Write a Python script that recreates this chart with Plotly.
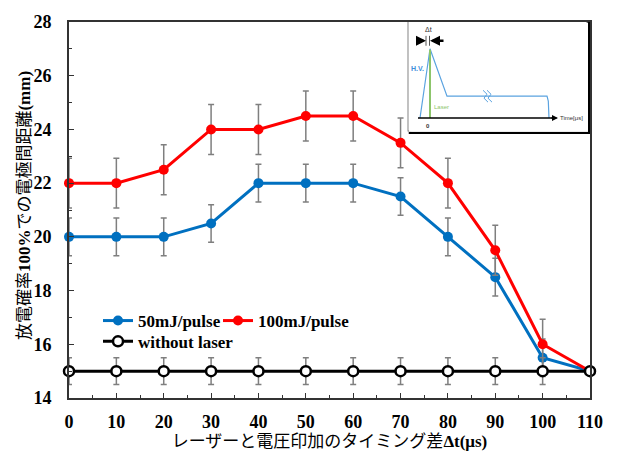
import plotly.graph_objects as go

# ---------------- data ----------------
dt = [0, 10, 20, 30, 40, 50, 60, 70, 80, 90, 100, 110]
mj50 = [20, 20, 20, 20.5, 22, 22, 22, 21.5, 20, 18.5, 15.5, 15]
mj50_err = [0.7, 0.7, 0.7, 0.7, 0.7, 0.7, 0.7, 0.7, 0.7, 0.7, 0.7, 0]
mj100 = [22, 22, 22.5, 24, 24, 24.5, 24.5, 23.5, 22, 19.5, 16, 15]
mj100_err = [0.93, 0.93, 0.93, 0.93, 0.93, 0.93, 0.93, 0.93, 0.93, 0.93, 0.93, 0]
nolaser = [15, 15, 15, 15, 15, 15, 15, 15, 15, 15, 15, 15]
nolaser_err = [0.5, 0.5, 0.5, 0.5, 0.5, 0.5, 0.5, 0.5, 0.5, 0.5, 0.5, 0]
x_ticks = [0, 10, 20, 30, 40, 50, 60, 70, 80, 90, 100, 110]
y_ticks = [14, 16, 18, 20, 22, 24, 26, 28]

# inset schematic (drawn in its own small axes, units = schematic px)
hv_x = [420, 430, 447, 547, 548.3, 549]
hv_y = [117, 47, 95, 95, 100, 117]
laser_x = [430, 430]
laser_y = [48, 117]
time_axis_x = [418, 556]
time_axis_y = [117, 117]

SERIF = "Liberation Serif, Times New Roman, Noto Sans CJK JP"
BLUE = "#0070C0"
RED = "#FF0000"
GRAY = "#7f7f7f"

fig = go.Figure()

def add_series(y, err, name, color, fill, legend):
    fig.add_trace(go.Scatter(
        x=dt, y=y, name=name, mode="lines+markers",
        line=dict(color=color, width=3),
        marker=dict(size=10, color=fill, line=dict(color=color, width=2.5 if fill == "white" else 0)),
        error_y=dict(type="data", array=err, visible=True, color=GRAY, thickness=1.5, width=3),
        legend=legend, cliponaxis=False,
    ))

add_series(mj50, mj50_err, "50mJ/pulse", BLUE, BLUE, "legend")
add_series(mj100, mj100_err, "100mJ/pulse", RED, RED, "legend3")
add_series(nolaser, nolaser_err, "without laser", "black", "white", "legend2")

# inset traces
fig.add_trace(go.Scatter(x=hv_x, y=hv_y, mode="lines", line=dict(color="#5BA3E0", width=1.2),
                         xaxis="x2", yaxis="y2", showlegend=False, hoverinfo="skip"))
fig.add_trace(go.Scatter(x=laser_x, y=laser_y, mode="lines", line=dict(color="#8CC56B", width=2),
                         xaxis="x2", yaxis="y2", showlegend=False, hoverinfo="skip"))
fig.add_trace(go.Scatter(x=time_axis_x, y=time_axis_y, mode="lines", line=dict(color="black", width=1.5),
                         xaxis="x2", yaxis="y2", showlegend=False, hoverinfo="skip"))
# dt marker lines
fig.add_trace(go.Scatter(x=[426, 426, None, 429.5, 429.5], y=[34, 44, None, 34, 44], mode="lines",
                         line=dict(color="#555", width=1), xaxis="x2", yaxis="y2",
                         showlegend=False, hoverinfo="skip"))
# break mark
fig.add_trace(go.Scatter(x=[483, 487, 484, 488, None, 487, 491, 488, 492],
                         y=[89, 93, 97, 101, None, 89, 93, 97, 101], mode="lines",
                         line=dict(color="#5BA3E0", width=1), xaxis="x2", yaxis="y2",
                         showlegend=False, hoverinfo="skip"))

L, R, T, B = 69, 27, 20, 57
W, H = 617, 457
pw, ph = W - L - R, H - T - B

def px(xp):
    return (xp - L) / pw

def py(yp):
    return (H - B - yp) / ph

axis_common = dict(showgrid=False, zeroline=False, showline=True, linecolor="#333", linewidth=2,
                   mirror=True, ticks="inside", ticklen=5, tickcolor="#333", tickwidth=1,
                   tickfont=dict(family=SERIF, size=18, color="black", weight="bold"))

legfont = dict(family=SERIF, size=17, color="black", weight="bold")
fig.update_layout(
    width=W, height=H, margin=dict(l=L, r=R, t=T, b=B),
    paper_bgcolor="white", plot_bgcolor="white",
    xaxis=dict(range=[0, 110], tickvals=x_ticks, ticktext=[str(v) for v in x_ticks],
               minor=dict(ticks="inside", ticklen=3, dtick=5, tickcolor="#333"),
               ticklabelstandoff=6,
               title=dict(text="レーザーと電圧印加のタイミング差<b>Δt(μs)</b>",
                          font=dict(family=SERIF, size=17, color="black"), standoff=2),
               **axis_common),
    yaxis=dict(range=[14, 28], tickvals=y_ticks, ticktext=[str(v) for v in y_ticks],
               minor=dict(ticks="inside", ticklen=3, dtick=1, tickcolor="#333"),
               ticklabelstandoff=12,
               **axis_common),
    xaxis2=dict(domain=[px(409), px(588)], range=[409, 588], visible=False, fixedrange=True),
    yaxis2=dict(domain=[py(131), py(21)], range=[131, 21], visible=False, fixedrange=True),
    legend=dict(x=px(98), y=py(304), xanchor="left", yanchor="top", orientation="h",
                bgcolor="rgba(0,0,0,0)", font=legfont, itemwidth=30),
    legend3=dict(x=px(218), y=py(304), xanchor="left", yanchor="top", orientation="h",
                 bgcolor="rgba(0,0,0,0)", font=legfont, itemwidth=30),
    legend2=dict(x=px(98), y=py(325), xanchor="left", yanchor="top", orientation="h",
                 bgcolor="rgba(0,0,0,0)", font=legfont, itemwidth=30),
    showlegend=True,
)

# y-axis title as rotated annotation for exact placement
fig.add_annotation(x=px(24), y=py(206), xref="paper", yref="paper", xanchor="center", yanchor="middle",
                   text="放電確率<b>100%</b>での電極間距離<b>(mm)</b>", textangle=-90, showarrow=False,
                   font=dict(family=SERIF, size=17, color="black"))

# inset frame
fig.add_shape(type="rect", xref="paper", yref="paper", x0=px(410), x1=px(589), y0=py(132), y1=py(21),
              line=dict(color="black", width=2.5), fillcolor="white", layer="below")
fig.add_shape(type="rect", xref="paper", yref="paper", x0=px(408), x1=px(587), y0=py(130), y1=py(19),
              line=dict(color="#999", width=1.2), fillcolor="white", layer="below")

small = dict(family="Arial, Liberation Sans", size=6)
fig.add_annotation(x=428, y=28, xref="x2", yref="y2", text="Δt", showarrow=False,
                   font=dict(small, size=7, color="#333"))
fig.add_annotation(x=417, y=67, xref="x2", yref="y2", text="<b>H.V.</b>", showarrow=False,
                   font=dict(small, size=7, color="#3D8FDB"))
fig.add_annotation(x=441, y=106, xref="x2", yref="y2", text="Laser", showarrow=False,
                   font=dict(small, color="#8CC56B"))
fig.add_annotation(x=428, y=125, xref="x2", yref="y2", text="<b>0</b>", showarrow=False,
                   font=dict(small, color="#333"))
fig.add_annotation(x=571, y=117, xref="x2", yref="y2", text="Time[μs]", showarrow=False,
                   font=dict(small, color="#333"))
# arrows
fig.add_annotation(x=426, y=39, ax=416, ay=39, xref="x2", yref="y2", axref="x2", ayref="y2",
                   text="", showarrow=True, arrowhead=2, arrowsize=0.8, arrowwidth=2.5, arrowcolor="black")
fig.add_annotation(x=430, y=39, ax=445, ay=39, xref="x2", yref="y2", axref="x2", ayref="y2",
                   text="", showarrow=True, arrowhead=2, arrowsize=0.8, arrowwidth=2.5, arrowcolor="black")
fig.add_annotation(x=558, y=117, ax=550, ay=117, xref="x2", yref="y2", axref="x2", ayref="y2",
                   text="", showarrow=True, arrowhead=2, arrowsize=0.8, arrowwidth=1.5, arrowcolor="black")

fig.write_html("out.html", config={"displayModeBar": False},
               post_script="document.body.style.margin='0';")
